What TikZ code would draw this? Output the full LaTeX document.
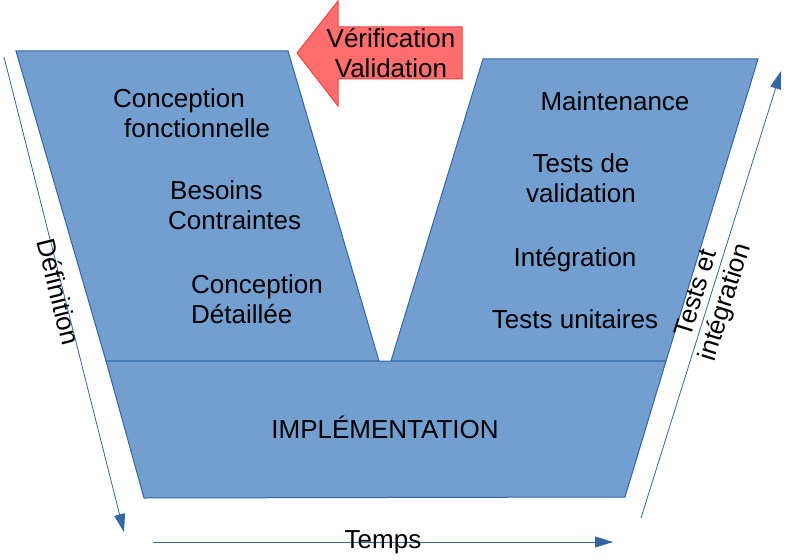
\documentclass[tikz,border=0pt]{standalone}
\usepackage{fontspec}
\setmainfont{Liberation Sans}
\usetikzlibrary{arrows.meta}
\definecolor{lofill}{HTML}{729FCF}
\definecolor{loline}{HTML}{3465A4}
\definecolor{redfill}{HTML}{FF6D6D}
\definecolor{redline}{HTML}{FF4040}
\begin{document}
\begin{tikzpicture}[x=1pt,y=-1pt,
  block/.style={fill=lofill,draw=loline,line width=1pt,line join=miter},
  lbl/.style={inner sep=0pt,font=\fontsize{26}{30}\selectfont,text=black},
  axis/.style={draw=loline,line width=0.8pt,-{Triangle[length=18pt,width=11pt]}}]
\useasboundingbox (0,0) rectangle (794,559);
% V shape
\draw[block] (16,51) -- (288,51) -- (379,361) -- (106,361) -- cycle;
\draw[block] (483,59) -- (758,59) -- (666,361) -- (391,361) -- cycle;
\draw[block] (106,361) -- (666,361) -- (625,497) -- (144,498) -- cycle;
% red arrow
\draw[fill=redfill,draw=redline,line width=1pt] (297,53) -- (338,1) -- (338,27) -- (462,27) -- (462,79) -- (338,79) -- (338,106) -- cycle;
\node[lbl,align=center] (vv) at (391,53) {Vérification\\Validation};
% axes
\coordinate (d1) at (4,57);
\coordinate (d2) at (124,532);
\coordinate (t1) at (153,542);
\coordinate (t2) at (613,542);
\coordinate (ti1) at (641,518);
\coordinate (ti2) at (781,71);
\draw[axis] (d1) -- (d2);
\draw[axis] (t1) -- (t2);
\draw[axis] (ti1) -- (ti2);
% labels
\node[lbl,align=left,anchor=west] (cf) at (113,113) {Conception\\\hspace*{11pt}fonctionnelle};
\node[lbl,align=left,anchor=west] (bc) at (168,205) {\hspace*{2pt}Besoins\\Contraintes};
\node[lbl,align=left,anchor=west] (cd) at (191,299) {Conception\\Détaillée};
\node[lbl] (mt) at (615,101) {Maintenance};
\node[lbl,align=center] (tv) at (581,178) {Tests de\\validation};
\node[lbl] (in) at (575,260) {Intégration};
\node[lbl] (tu) at (575,319) {Tests unitaires};
\node[lbl] (im) at (385,427) {IMPLÉMENTATION};
\node[lbl] (tp) at (383,542) {Temps};
\node[lbl,rotate=-76] (df) at (59,292) {Définition};
\node[lbl,align=center,rotate=72.6] (ti) at (712,298) {Tests et\\intégration};
\end{tikzpicture}
\end{document}
